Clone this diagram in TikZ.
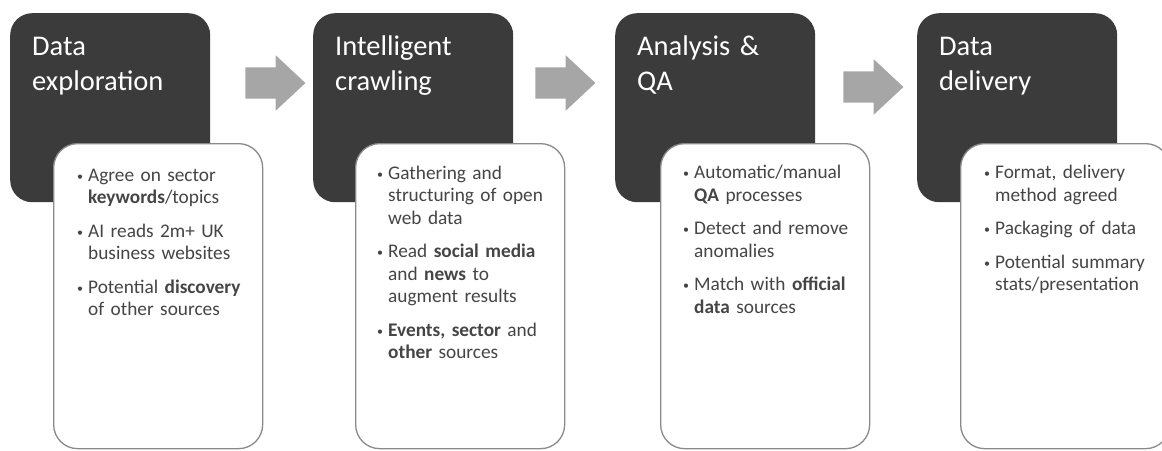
\documentclass[tikz,border=0pt]{standalone}
\usepackage{fontspec}
\setmainfont{Carlito}
\usetikzlibrary{shapes.arrows,positioning}

\definecolor{stagegray}{HTML}{3B3B3B}
\definecolor{flowgray}{HTML}{A6A6A6}
\definecolor{framegray}{HTML}{8A8A8A}
\definecolor{textgray}{HTML}{454545}

% one bullet with hanging indent
\newcommand{\bitem}[1]{\noindent\hangindent=11pt\hangafter=1\makebox[11pt][l]{\raisebox{1pt}{\fontsize{12}{12}\selectfont\textbullet}}\strut#1\par}

\begin{document}
\begin{tikzpicture}[x=1pt,y=-1pt,
stage/.style={anchor=north west,inner sep=0pt,minimum width=200pt,minimum height=189pt,rounded corners=22pt,fill=stagegray},
stagetitle/.style={anchor=north west,inner sep=0pt,text width=180pt,align=left,text=white,font=\fontsize{28.5}{35}\selectfont},
detail/.style={anchor=north west,inner sep=0pt,minimum width=209pt,minimum height=305pt,rounded corners=24pt,fill=white,draw=framegray,line width=1.3pt},
points/.style={anchor=north west,inner sep=0pt,text width=200pt,align=left,text=textgray,font=\fontsize{19.3}{22.5}\selectfont,execute at begin node={\setlength{\parskip}{11pt}}},
flow/.style={single arrow,fill=flowgray,inner xsep=0pt,inner ysep=15.5pt,minimum height=60pt,single arrow head extend=12pt,single arrow tip angle=86}
]
\useasboundingbox (0,0) rectangle (1162,450);

% dark stage boxes
\node[stage] (d1) at (10,13) {};
\node[stage] (d2) at (313,13) {};
\node[stage] (d3) at (615,13) {};
\node[stage] (d4) at (917,13) {};

\node[stagetitle] (t1) at ([shift={(22,17.5)}]d1.north west) {\strut Data\\exploration};
\node[stagetitle] (t2) at ([shift={(22,17.5)}]d2.north west) {\strut Intelligent\\crawling};
\node[stagetitle] (t3) at ([shift={(22,17.5)}]d3.north west) {\strut Analysis \&\\QA};
\node[stagetitle] (t4) at ([shift={(22,17.5)}]d4.north west) {\strut Data\\delivery};

% white detail boxes
\node[detail] (w1) at (53,143) {};
\node[detail] (w2) at (355,143) {};
\node[detail] (w3) at (660,143) {};
\node[detail] (w4) at (960,143) {};

\node[points] (p1) at ([shift={(24,22.5)}]w1.north west) {%
\bitem{Agree on sector\newline\textbf{keywords}/topics}
\bitem{AI reads 2m+ UK\newline business websites}
\bitem{Potential \textbf{discovery}\newline of other sources}};
\node[points] (p2) at ([shift={(22,20.5)}]w2.north west) {%
\bitem{Gathering and\newline structuring of open\newline web data}
\bitem{Read \textbf{social media}\newline and \textbf{news} to\newline augment results}
\bitem{\textbf{Events, sector} and\newline \textbf{other} sources}};
\node[points] (p3) at ([shift={(23,20)}]w3.north west) {%
\bitem{Automatic/manual\newline \textbf{QA} processes}
\bitem{Detect and remove\newline anomalies}
\bitem{Match with \textbf{official}\newline \textbf{data} sources}};
\node[points] (p4) at ([shift={(24,20)}]w4.north west) {%
\bitem{Format, delivery\newline method agreed}
\bitem{Packaging of data}
\bitem{Potential summary\newline stats/presentation}};

% grey arrows between the stages
\node[flow] (a1) at (267,83) {};
\node[flow] (a2) at (557,83) {};
\node[flow] (a3) at (865,87) {};

\end{tikzpicture}
\end{document}
